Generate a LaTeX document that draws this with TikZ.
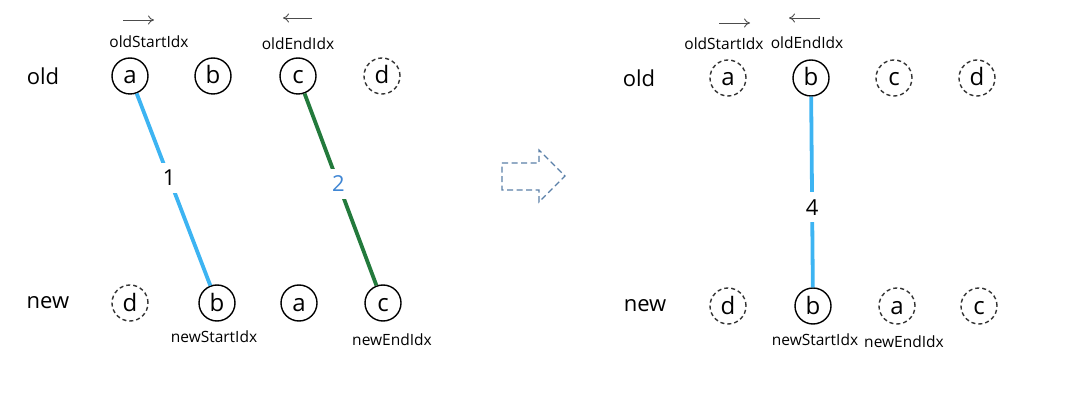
\documentclass[tikz,border=0pt]{standalone}
\usepackage{fontspec}
\usetikzlibrary{arrows.meta}
\setmainfont{Open Sans}
\definecolor{lineblue}{HTML}{3DB4F2}
\definecolor{linegreen}{HTML}{237A3C}
\definecolor{numblue}{HTML}{3F86D4}
\definecolor{arrowgray}{HTML}{5A7FA8}
\begin{document}
\begin{tikzpicture}[x=1pt,y=-1pt,
  solidnode/.style={circle,draw=black,line width=1.4pt,minimum size=36pt,inner sep=0pt,
    font=\fontsize{24}{24}\selectfont,text height=16pt,text depth=0pt},
  dashnode/.style={solidnode,draw=black!80,dash pattern=on 4pt off 3pt},
  rowlabel/.style={font=\fontsize{22}{22}\selectfont},
  idxlabel/.style={font=\fontsize{15.5}{15.5}\selectfont},
  dirarrow/.style={draw=black!70,line width=0.9pt,-{To[length=6pt,width=9pt]}},
  numlabel/.style={fill=white,inner sep=7pt,font=\fontsize{22}{22}\selectfont},
  matchblue/.style={draw=lineblue,line width=3.8pt},
  matchgreen/.style={draw=linegreen,line width=3.8pt}]
\useasboundingbox (0,0) rectangle (1065,403);
% ---------------- left part ----------------
\node[rowlabel] (lold) at (43,76) {old};
\node[rowlabel] (lnew) at (48,303) {new};
\node[solidnode] (la) at (130,76) {a};
\node[solidnode] (lb) at (213,76) {b};
\node[solidnode] (lc) at (298,76) {c};
\node[dashnode] (ld) at (382,76) {d};
\node[dashnode] (nd) at (130,303) {d};
\node[solidnode] (nb) at (217,303) {b};
\node[solidnode] (na) at (299,303) {a};
\node[solidnode] (nc) at (383,303) {c};
\node[idxlabel] (osl) at (149,42) {oldStartIdx};
\node[idxlabel] (oel) at (298,44) {oldEndIdx};
\node[idxlabel] (nsl) at (214,337) {newStartIdx};
\node[idxlabel] (nel) at (392,340) {newEndIdx};
\coordinate (a1s) at (123,20); \coordinate (a1e) at (154,20);
\coordinate (a2s) at (312,18); \coordinate (a2e) at (283,18);
\draw[dirarrow] (a1s) -- (a1e);
\draw[dirarrow] (a2s) -- (a2e);
\draw[matchblue] (la) -- (nb) node[numlabel,pos=0.44] (n1) {1};
\draw[matchgreen] (lc) -- (nc) node[numlabel,pos=0.47,text=numblue] (n2) {2};
% ---------------- middle arrow ----------------
\draw[arrowgray,line width=1.1pt,dash pattern=on 6pt off 3.5pt]
  (502,163) -- (539,163) -- (539,150) -- (565,176) -- (539,202) -- (539,190) -- (502,190) -- cycle;
% ---------------- right part ----------------
\node[rowlabel] (rold) at (639,78) {old};
\node[rowlabel] (rnew) at (645,306) {new};
\node[dashnode] (ra) at (728,78) {a};
\node[solidnode] (rb) at (811,78) {b};
\node[dashnode] (rc) at (894,78) {c};
\node[dashnode] (rd) at (977,78) {d};
\node[dashnode] (sd) at (728,306) {d};
\node[solidnode] (sb) at (813,306) {b};
\node[dashnode] (sa) at (897,306) {a};
\node[dashnode] (sc) at (979,306) {c};
\node[idxlabel] (rosl) at (724,44) {oldStartIdx};
\node[idxlabel] (roel) at (807,43) {oldEndIdx};
\node[idxlabel] (rnsl) at (815,340) {newStartIdx};
\node[idxlabel] (rnel) at (904,342) {newEndIdx};
\coordinate (b1s) at (719,23); \coordinate (b1e) at (750,23);
\coordinate (b2s) at (820,18); \coordinate (b2e) at (789,18);
\draw[dirarrow] (b1s) -- (b1e);
\draw[dirarrow] (b2s) -- (b2e);
\draw[matchblue] (rb) -- (sb) node[numlabel,pos=0.58] (n4) {4};
\end{tikzpicture}
\end{document}
